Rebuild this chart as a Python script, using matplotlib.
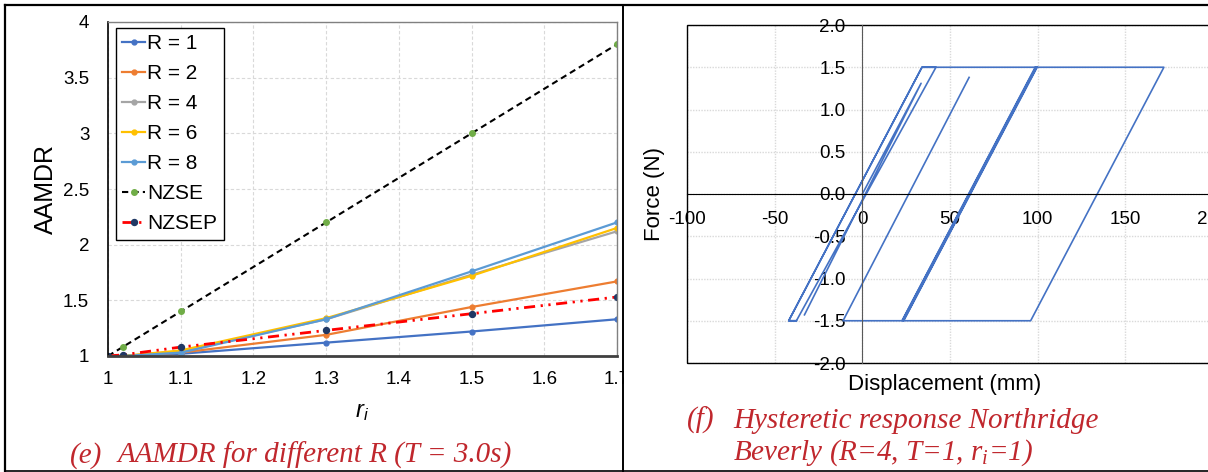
import numpy as np
import matplotlib.pyplot as plt
from matplotlib.lines import Line2D
from matplotlib.patches import Rectangle
from matplotlib.ticker import FuncFormatter, FormatStrFormatter

plt.rcParams['font.family'] = ['Liberation Sans', 'DejaVu Sans']
plt.rcParams['axes.unicode_minus'] = False
plt.rcParams['mathtext.fontset'] = 'custom'
plt.rcParams['mathtext.it'] = 'Liberation Serif:italic'
plt.rcParams['mathtext.rm'] = 'Liberation Serif'
plt.rcParams['mathtext.sf'] = 'Liberation Sans:italic'

# ---- data: (e) AAMDR vs r_i ----
ri = [1.0, 1.02, 1.1, 1.3, 1.5, 1.7]
r1 = [1.0, 1.0, 1.02, 1.12, 1.22, 1.33]
r2 = [1.0, 1.0, 1.03, 1.19, 1.44, 1.67]
r4 = [1.0, 1.0, 1.04, 1.33, 1.73, 2.12]
r6 = [1.0, 1.0, 1.05, 1.34, 1.72, 2.15]
r8 = [1.0, 1.0, 1.03, 1.33, 1.76, 2.20]
nzse = [1.0, 1.08, 1.40, 2.20, 3.00, 3.80]
nzsep = [1.0, 1.01, 1.08, 1.23, 1.38, 1.53]

# ---- data: (f) hysteresis, displacement (mm) / force (N) ----
disp = [0.0, 33.5, -33.0, np.nan,
        -37.6, -42.0, 34.0, 42.0, -37.6, -42.0, 34.0, 172.0, 96.0,
        23.6, 99.7, 98.9, 22.8, 23.4, 99.4, 98.6, 22.6,
        -11.0, 60.9]
force = [0.0, 1.31, -1.43, np.nan,
         -1.5, -1.5, 1.5, 1.5, -1.5, -1.5, 1.5, 1.5, -1.5,
         -1.5, 1.5, 1.5, -1.5, -1.5, 1.5, 1.5, -1.5,
         -1.5, 1.38]

W, H = 1208, 472
fig = plt.figure(figsize=(12.08, 4.72), dpi=100)

def fx(px):
    return px / W

def fy(py):
    return 1 - py / H

cap_col = '#C0272D'

# left chart
ax1 = fig.add_axes([fx(108), fy(356), fx(617) - fx(108), fy(22) - fy(356)])
series = [('R = 1', r1, '#4472C4'), ('R = 2', r2, '#ED7D31'), ('R = 4', r4, '#A5A5A5'),
          ('R = 6', r6, '#FFC000'), ('R = 8', r8, '#5B9BD5')]
for lab, vals, c in series:
    ax1.plot(ri, vals, color=c, lw=1.6, marker='o', ms=3.5, label=lab)
ax1.plot(ri, nzse, color='black', ls=(0, (3, 2)), lw=1.5, marker='o', ms=4,
         mfc='#70AD47', mec='#70AD47', label='NZSE')
ax1.plot(ri, nzsep, color='red', ls=(0, (4, 2, 0.8, 2, 0.8, 2)), lw=2, marker='o', ms=4.3,
         mfc='#203864', mec='#203864', label='NZSEP')

ax1.set_xlim(1, 1.7)
ax1.set_ylim(1, 4)
ax1.set_xticks(np.arange(1, 1.71, 0.1))
ax1.set_yticks(np.arange(1, 4.01, 0.5))
gfmt = FuncFormatter(lambda v, p: '{:g}'.format(round(v, 2)))
ax1.xaxis.set_major_formatter(gfmt)
ax1.yaxis.set_major_formatter(gfmt)
ax1.grid(True, color='#D9D9D9', ls=(0, (3, 2)), lw=0.8)
ax1.set_axisbelow(True)
ax1.spines['left'].set_color('black')
ax1.spines['left'].set_linewidth(1.2)
ax1.spines['bottom'].set_color('#404040')
ax1.spines['bottom'].set_linewidth(2)
for s in ['top', 'right']:
    ax1.spines[s].set_color('#808080')
    ax1.spines[s].set_linewidth(1)
ax1.tick_params(axis='both', length=0, labelsize=13.5)
ax1.tick_params(axis='y', pad=13.5)
ax1.tick_params(axis='x', pad=11)
ax1.set_ylabel('AAMDR', fontsize=18)
ax1.yaxis.set_label_coords(-0.098, 0.5)
ax1.set_xlabel(r'$\mathsf{r}_\mathsf{i}$', fontsize=17)
ax1.xaxis.set_label_coords(0.5, -0.135)
leg = ax1.legend(loc='upper left', bbox_to_anchor=(fx(116), fy(28)),
                 bbox_transform=fig.transFigure, borderaxespad=0, fontsize=15,
                 numpoints=1, handlelength=1.1, handletextpad=0.1,
                 labelspacing=0.53, borderpad=0.3, fancybox=False, framealpha=1)
leg.get_frame().set_edgecolor('black')
leg.get_frame().set_linewidth(1)

# right chart
ax2 = fig.add_axes([fx(687), fy(363), fx(1213) - fx(687), fy(25) - fy(363)])
ax2.plot(disp, force, color='#4472C4', lw=1.2)
ax2.set_xlim(-100, 200)
ax2.set_ylim(-2, 2)
ax2.set_xticks(np.arange(-100, 201, 50))
ax2.set_yticks(np.arange(-2, 2.01, 0.5))
ax2.xaxis.set_major_formatter(FuncFormatter(lambda v, p: '{:g}'.format(v)))
ax2.yaxis.set_major_formatter(FormatStrFormatter('%.1f'))
ax2.grid(True, color='#D9D9D9', ls=(0, (1, 1)), lw=1)
ax2.set_axisbelow(True)
ax2.spines['left'].set_position(('data', 0))
ax2.spines['left'].set_color('#595959')
ax2.spines['bottom'].set_position(('data', 0))
ax2.spines['bottom'].set_color('black')
ax2.spines['top'].set_visible(False)
ax2.spines['right'].set_visible(False)
ax2.add_patch(Rectangle((0, 0), 1, 1, transform=ax2.transAxes, fill=False,
                        ec='black', lw=1, clip_on=False))
ax2.tick_params(axis='both', length=0, labelsize=13.5)
ax2.tick_params(axis='x', pad=12.5)
ax2.tick_params(axis='y', pad=12)
ax2.set_ylabel('Force (N)', fontsize=16)
ax2.yaxis.set_label_coords(-0.042, 0.5)
ax2.set_xlabel('Displacement (mm)', fontsize=16)
ax2.xaxis.set_label_coords(0.489, -0.032)

# hide the part of the "1.7" label that falls into the right cell
fig.add_artist(Rectangle((fx(624), fy(395)), fx(660) - fx(624), fy(360) - fy(395),
                         transform=fig.transFigure, fc='white', ec='none', zorder=5))

# table borders
bk = dict(color='black', transform=fig.transFigure, zorder=6)
fig.add_artist(Line2D([fx(5), 1], [fy(5), fy(5)], lw=1.6, **bk))
fig.add_artist(Line2D([fx(5), fx(5)], [fy(5), fy(470.5)], lw=1.6, **bk))
fig.add_artist(Line2D([fx(623), fx(623)], [fy(5), fy(470.5)], lw=1.4, **bk))
fig.add_artist(Line2D([fx(5), 1], [fy(470.5), fy(470.5)], lw=1.2, **bk))

# captions
cap = dict(family='Liberation Serif', style='italic', color=cap_col, fontsize=21)
fig.text(fx(70), fy(463), '(e)', **cap)
fig.text(fx(118), fy(463), 'AAMDR for different R (T = 3.0s)', **cap)
fig.text(fx(687), fy(428), '(f)', **cap)
fig.text(fx(733), fy(428), 'Hysteretic response Northridge', **cap)
fig.text(fx(733), fy(460), r'Beverly (R=4, T=1, $r_i$=1)', **cap)

fig.savefig('out.png', dpi=100)
